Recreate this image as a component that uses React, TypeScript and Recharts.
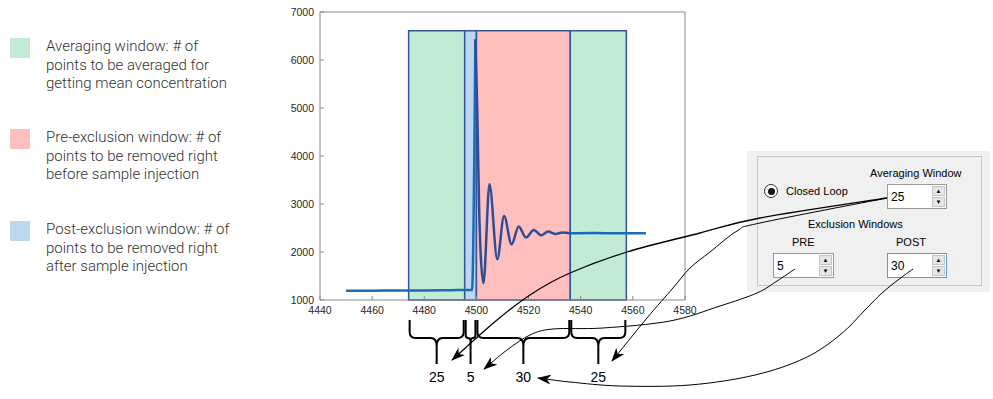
import React from "react";
import { ComposedChart, Line, XAxis, YAxis, ReferenceArea } from "recharts";

const xTicks = [4440, 4460, 4480, 4500, 4520, 4540, 4560, 4580];
const yTicks = [1000, 2000, 3000, 4000, 5000, 6000, 7000];

// signal, split where the line colour changes
const baseTimes = [4450, 4460, 4470, 4480, 4490, 4498.3, 4499.6];
const baseValues = [1195, 1195, 1200, 1200, 1205, 1210, 6430];
const ringTimes = [4499.6, 4500.3, 4501, 4501.6, 4502.7, 4505, 4508, 4510.6, 4513.5, 4516.2, 4519, 4522, 4524.8, 4527.5, 4530.4, 4533, 4536];
const ringValues = [6430, 5000, 3000, 2000, 1350, 3410, 1850, 2750, 2160, 2530, 2300, 2460, 2350, 2425, 2375, 2405, 2390];
const tailTimes = [4536, 4545, 4555, 4565];
const tailValues = [2390, 2395, 2390, 2390];

// windows drawn over the signal
const windowStarts = [4474, 4495.5, 4500, 4536];
const windowEnds = [4495.5, 4500, 4536, 4557.5];
const windowTop = 6610;
const windowFills = ["#c1ebd5", "#bdd7ee", "#ffbfbf", "#c1ebd5"];
const windowPoints = ["25", "5", "30", "25"];

const legendColors = ["#c1ebd5", "#ffbfbf", "#bdd7ee"];
const legendLines = [
  ["Averaging window: # of", "points to be averaged for", "getting mean concentration"],
  ["Pre-exclusion window: # of", "points to be removed right", "before sample injection"],
  ["Post-exclusion window: # of", "points to be removed right", "after sample injection"],
];

const toRows = (ts: number[], vs: number[]) => ts.map((t, i) => ({ t, v: vs[i] }));

// plot box (for the annotation layer only)
const PLOT_L = 320;
const PLOT_R = 685;
const xPx = (v: number) => PLOT_L + ((v - 4440) / 140) * (PLOT_R - PLOT_L);

const tickFont = { fontFamily: "Liberation Sans, Arial, sans-serif", fontSize: 10.5, fill: "#262626" };
const axisGrey = "#8a8a8a";

function smoothPath(pts: number[][]) {
  let d = `M${pts[0][0]},${pts[0][1]}`;
  for (let i = 0; i < pts.length - 1; i++) {
    const p0 = pts[i - 1] || pts[i];
    const p1 = pts[i];
    const p2 = pts[i + 1];
    const p3 = pts[i + 2] || p2;
    const c1x = p1[0] + (p2[0] - p0[0]) / 6;
    const c1y = p1[1] + (p2[1] - p0[1]) / 6;
    const c2x = p2[0] - (p3[0] - p1[0]) / 6;
    const c2y = p2[1] - (p3[1] - p1[1]) / 6;
    d += ` C${c1x},${c1y} ${c2x},${c2y} ${p2[0]},${p2[1]}`;
  }
  return d;
}

function bracePath(x1: number, x2: number) {
  const top = 320, mid = 338, bot = 364;
  const xm = (x1 + x2) / 2;
  const r = Math.min(6, (x2 - x1) / 4);
  return (
    `M${x1},${top} L${x1},${mid - r} Q${x1},${mid} ${x1 + r},${mid} L${xm - r},${mid} Q${xm},${mid} ${xm},${mid + r + 2} L${xm},${bot} ` +
    `M${x2},${top} L${x2},${mid - r} Q${x2},${mid} ${x2 - r},${mid} L${xm + r},${mid} Q${xm},${mid} ${xm},${mid + r + 2}`
  );
}

const connectors = [
  [[887, 198], [760, 218], [700, 233], [627, 252], [570, 273], [533, 293], [497, 320], [452, 360]],
  [[887, 198], [760, 223], [737, 231], [710, 252], [690, 268], [673, 288], [647, 318], [612, 361]],
  [[795, 269], [777, 281], [757, 293], [720, 306], [670, 321], [603, 328], [553, 329], [530, 335], [507, 350], [484, 369]],
  [[913, 269], [898, 280], [882, 293], [865, 310], [840, 335], [805, 358], [755, 375], [690, 385], [620, 386], [570, 382], [538, 378]],
];

const Spinner = ({ left, top, width, value, focused }: { left: number; top: number; width: number; value: string; focused?: boolean }) => (
  <div
    style={{
      position: "absolute", left, top, width, height: 25, boxSizing: "border-box",
      border: `1px solid ${focused ? "#5b9bd5" : "#9a9a9a"}`, background: "#fff",
      fontFamily: "Liberation Sans, Arial, sans-serif", fontSize: 12, color: "#000",
    }}
  >
    <span style={{ position: "absolute", left: 3, top: 5 }}>{value}</span>
    <div style={{ position: "absolute", right: 1, top: 1, width: 13, height: 21, display: "flex", flexDirection: "column", gap: 1 }}>
      {["\u25B2", "\u25BC"].map((g) => (
        <div key={g} style={{ flex: 1, background: "#e6e6e6", border: "1px solid #c4c4c4", fontSize: 6, lineHeight: "8px", textAlign: "center", color: "#000" }}>{g}</div>
      ))}
    </div>
  </div>
);

const label = (text: string, left: number, top: number) => (
  <div style={{ position: "absolute", left, top, fontFamily: "Liberation Sans, Arial, sans-serif", fontSize: 11, color: "#000", whiteSpace: "nowrap", lineHeight: "14px" }}>
    {text}
  </div>
);

export default function App() {
  return (
    <div style={{ position: "absolute", left: 0, top: 0, width: 993, height: 399, background: "#fff", overflow: "hidden" }}>
      {/* legend */}
      {legendLines.map((lines, i) => (
        <div key={i} style={{ position: "absolute", left: 10, top: [37, 128, 220][i] }}>
          <div style={{ position: "absolute", left: 0, top: 1, width: 20, height: 20, background: legendColors[i] }} />
          <div style={{ position: "absolute", left: 36, top: 0, fontFamily: "Roboto, sans-serif", fontWeight: 300, fontSize: 15, lineHeight: "18.7px", color: "#333", whiteSpace: "nowrap" }}>
            {lines.map((l) => (<div key={l}>{l}</div>))}
          </div>
        </div>
      ))}

      <div style={{ position: "absolute", left: 0, top: 0 }}>
        <ComposedChart width={993} height={399} margin={{ top: 11, right: 307, bottom: 79, left: 280 }}>
          <XAxis dataKey="t" type="number" domain={[4440, 4580]} ticks={xTicks} height={20}
            stroke={axisGrey} tickSize={-4} tickMargin={11} tick={tickFont} allowDataOverflow />
          <XAxis xAxisId="top" orientation="top" type="number" domain={[4440, 4580]} ticks={xTicks} height={1}
            stroke={axisGrey} tickSize={-4} tick={false} allowDataOverflow />
          <YAxis type="number" domain={[1000, 7000]} ticks={yTicks} width={40}
            stroke={axisGrey} tickSize={-4} tickMargin={10} tick={tickFont} allowDataOverflow />
          <YAxis yAxisId="right" orientation="right" type="number" domain={[1000, 7000]} ticks={yTicks} width={1}
            stroke={axisGrey} tickSize={-4} tick={false} allowDataOverflow />
          {windowStarts.map((s, i) => (
            <ReferenceArea key={i} x1={s} x2={windowEnds[i]} y1={1000} y2={windowTop}
              fill={windowFills[i]} fillOpacity={1} stroke="#34559a" strokeWidth={1.5} />
          ))}
          <Line data={toRows(baseTimes, baseValues)} dataKey="v" type="monotone" stroke="#1a6cb8" strokeWidth={2.5} dot={false} isAnimationActive={false} />
          <Line data={toRows(ringTimes, ringValues)} dataKey="v" type="monotone" stroke="#2e4d95" strokeWidth={2.5} dot={false} isAnimationActive={false} />
          <Line data={toRows(tailTimes, tailValues)} dataKey="v" type="monotone" stroke="#1a6cb8" strokeWidth={2.5} dot={false} isAnimationActive={false} />
          {/* invisible series that ties the frame axes in */}
          <Line data={toRows(tailTimes, tailValues)} dataKey="v" xAxisId="top" yAxisId="right" stroke="none" dot={false} legendType="none" isAnimationActive={false} />
        </ComposedChart>
      </div>

      {/* settings panel */}
      <div style={{ position: "absolute", left: 747, top: 151, width: 243, height: 141, background: "#f0f0f0" }} />
      <div style={{ position: "absolute", left: 757, top: 156, width: 225, height: 130, boxSizing: "border-box", border: "1px solid #c6c6c6" }} />
      <div style={{ position: "absolute", left: 764, top: 184, width: 14, height: 14, boxSizing: "border-box", borderRadius: "50%", border: "1px solid #333", background: "#fff" }}>
        <div style={{ position: "absolute", left: 2.5, top: 2.5, width: 7, height: 7, borderRadius: "50%", background: "#111" }} />
      </div>
      {label("Closed Loop", 786, 184)}
      {label("Averaging Window", 870, 166)}
      {label("Exclusion Windows", 808, 217)}
      {label("PRE", 792, 235)}
      {label("POST", 896, 235)}
      <Spinner left={887} top={184} width={60} value="25" />
      <Spinner left={773} top={253} width={61} value="5" />
      <Spinner left={887} top={253} width={60} value="30" focused />

      {/* braces and arrows */}
      <svg width={993} height={399} style={{ position: "absolute", left: 0, top: 0, pointerEvents: "none" }}>
        <defs>
          <marker id="arr" viewBox="0 0 14 10" refX="13" refY="5" markerWidth="14" markerHeight="10" markerUnits="userSpaceOnUse" orient="auto">
            <path d="M0,0 L14,5 L0,10 L4,5 z" fill="#000" />
          </marker>
        </defs>
        {windowStarts.map((s, i) => {
          const x1 = xPx(s) + 1;
          const x2 = xPx(windowEnds[i]) - 1;
          return (
            <g key={i}>
              <path d={bracePath(x1, x2)} fill="none" stroke="#000" strokeWidth={2} />
              <text x={(x1 + x2) / 2} y={382} textAnchor="middle" fontFamily="Liberation Sans, Arial, sans-serif" fontSize={14} fill="#000">
                {windowPoints[i]}
              </text>
            </g>
          );
        })}
        {connectors.map((pts, i) => (
          <path key={i} d={smoothPath(pts)} fill="none" stroke="#000" strokeWidth={i === 0 ? 1.3 : 1} markerEnd="url(#arr)" />
        ))}
      </svg>
    </div>
  );
}
